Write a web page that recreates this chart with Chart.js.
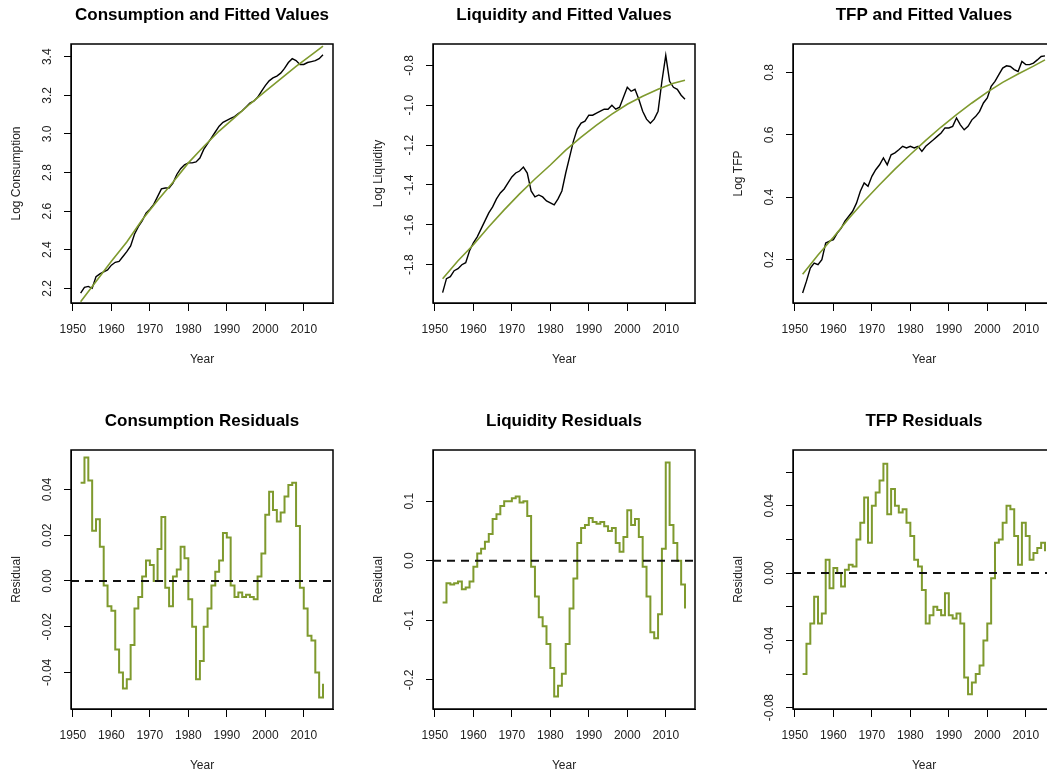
<!DOCTYPE html>
<html>
<head>
<meta charset="utf-8">
<script src="https://cdn.jsdelivr.net/npm/chart.js@4.4.1/dist/chart.umd.min.js"></script>
<style>
  html, body { margin: 0; padding: 0; background: #fff; }
  body { width: 1047px; height: 777px; overflow: hidden; position: relative; }
  .panel { position: absolute; width: 362px; height: 406px; }
</style>
</head>
<body>
<div class="panel" style="left:0;top:0"><canvas id="c1" width="362" height="406"></canvas></div>
<div class="panel" style="left:362px;top:0"><canvas id="c2" width="362" height="406"></canvas></div>
<div class="panel" style="left:722px;top:0"><canvas id="c3" width="362" height="406"></canvas></div>
<div class="panel" style="left:0;top:406px"><canvas id="c4" width="362" height="406"></canvas></div>
<div class="panel" style="left:362px;top:406px"><canvas id="c5" width="362" height="406"></canvas></div>
<div class="panel" style="left:722px;top:406px"><canvas id="c6" width="362" height="406"></canvas></div>
<script>
// annual readings 1952..2015
const years = [
  1952, 1953, 1954, 1955, 1956, 1957, 1958, 1959,
  1960, 1961, 1962, 1963, 1964, 1965, 1966, 1967,
  1968, 1969, 1970, 1971, 1972, 1973, 1974, 1975,
  1976, 1977, 1978, 1979, 1980, 1981, 1982, 1983,
  1984, 1985, 1986, 1987, 1988, 1989, 1990, 1991,
  1992, 1993, 1994, 1995, 1996, 1997, 1998, 1999,
  2000, 2001, 2002, 2003, 2004, 2005, 2006, 2007,
  2008, 2009, 2010, 2011, 2012, 2013, 2014, 2015
];
const fitYears = [1952, 1956, 1960, 1964, 1968, 1972, 1976, 1980, 1984, 1988, 1992, 1996, 2000, 2004, 2008, 2012, 2015];

const consumption = [
  2.175, 2.205, 2.21, 2.20, 2.26, 2.275, 2.285, 2.295,
  2.32, 2.335, 2.34, 2.365, 2.39, 2.42, 2.48, 2.52,
  2.55, 2.59, 2.61, 2.635, 2.675, 2.715, 2.72, 2.72,
  2.745, 2.79, 2.82, 2.84, 2.85, 2.85, 2.855, 2.875,
  2.92, 2.95, 2.98, 3.01, 3.04, 3.06, 3.07, 3.08,
  3.09, 3.105, 3.12, 3.14, 3.16, 3.17, 3.19, 3.22,
  3.25, 3.275, 3.29, 3.30, 3.315, 3.34, 3.37, 3.39,
  3.38, 3.36, 3.36, 3.37, 3.375, 3.38, 3.39, 3.41
];
const consumptionFit = [2.13, 2.235, 2.34, 2.44, 2.555, 2.655, 2.75, 2.85, 2.935, 3.015, 3.085, 3.155, 3.22, 3.285, 3.35, 3.41, 3.455];

const liquidity = [
  -1.94, -1.87, -1.86, -1.83, -1.82, -1.80, -1.79, -1.73,
  -1.69, -1.66, -1.62, -1.58, -1.54, -1.51, -1.47, -1.44,
  -1.42, -1.39, -1.36, -1.34, -1.33, -1.31, -1.34, -1.43,
  -1.46, -1.45, -1.46, -1.48, -1.49, -1.50, -1.47, -1.43,
  -1.34, -1.26, -1.18, -1.12, -1.09, -1.08, -1.05, -1.05,
  -1.04, -1.03, -1.02, -1.02, -1.00, -1.02, -1.01, -0.96,
  -0.91, -0.93, -0.92, -0.97, -1.03, -1.07, -1.09, -1.07,
  -1.03, -0.88, -0.75, -0.88, -0.91, -0.92, -0.95, -0.97
];
const liquidityFit = [-1.87, -1.78, -1.70, -1.61, -1.525, -1.445, -1.37, -1.30, -1.225, -1.16, -1.10, -1.045, -0.995, -0.955, -0.92, -0.89, -0.875];

const tfp = [
  0.093, 0.131, 0.173, 0.189, 0.184, 0.200, 0.253, 0.259,
  0.264, 0.285, 0.300, 0.323, 0.339, 0.355, 0.381, 0.419,
  0.446, 0.435, 0.467, 0.488, 0.504, 0.526, 0.504, 0.536,
  0.542, 0.552, 0.563, 0.558, 0.563, 0.558, 0.563, 0.547,
  0.563, 0.574, 0.584, 0.595, 0.606, 0.622, 0.622, 0.627,
  0.654, 0.632, 0.616, 0.627, 0.648, 0.659, 0.675, 0.702,
  0.718, 0.755, 0.771, 0.793, 0.814, 0.821, 0.819, 0.809,
  0.803, 0.835, 0.825, 0.825, 0.830, 0.840, 0.851, 0.853
];
const tfpFit = [0.153, 0.215, 0.272, 0.332, 0.388, 0.44, 0.49, 0.537, 0.582, 0.625, 0.665, 0.702, 0.737, 0.768, 0.795, 0.82, 0.84];

const consumptionResid = [
  0.043, 0.054, 0.044, 0.022, 0.027, 0.015, -0.002, -0.011,
  -0.013, -0.03, -0.04, -0.047, -0.043, -0.028, -0.012, -0.007,
  0.002, 0.009, 0.007, 0.000, 0.014, 0.028, -0.003, -0.011,
  0.002, 0.005, 0.015, 0.010, -0.008, -0.02, -0.043, -0.035,
  -0.02, -0.012, -0.002, 0.004, 0.009, 0.021, 0.019, -0.002,
  -0.007, -0.005, -0.007, -0.006, -0.007, -0.008, 0.002, 0.012,
  0.029, 0.039, 0.031, 0.026, 0.03, 0.037, 0.042, 0.043,
  0.024, -0.003, -0.012, -0.024, -0.026, -0.04, -0.051, -0.045
];
const liquidityResid = [
  -0.07, -0.038, -0.04, -0.038, -0.035, -0.048, -0.045, -0.035,
  -0.01, 0.012, 0.02, 0.032, 0.045, 0.07, 0.078, 0.092,
  0.10, 0.10, 0.105, 0.108, 0.098, 0.10, 0.075, -0.01,
  -0.06, -0.095, -0.11, -0.14, -0.18, -0.228, -0.21, -0.19,
  -0.14, -0.08, -0.03, 0.03, 0.055, 0.06, 0.072, 0.065,
  0.062, 0.065, 0.058, 0.05, 0.055, 0.03, 0.015, 0.04,
  0.085, 0.06, 0.07, 0.04, -0.01, -0.06, -0.12, -0.13,
  -0.09, 0.02, 0.165, 0.06, 0.03, 0.0, -0.04, -0.08
];
const tfpResid = [
  -0.06, -0.042, -0.03, -0.014, -0.03, -0.024, 0.008, -0.009,
  0.003, 0.0, -0.008, 0.002, 0.005, 0.004, 0.02, 0.03,
  0.045, 0.018, 0.04, 0.048, 0.055, 0.065, 0.035, 0.05,
  0.04, 0.036, 0.038, 0.03, 0.022, 0.008, 0.004, -0.01,
  -0.03, -0.025, -0.02, -0.022, -0.025, -0.012, -0.025, -0.027,
  -0.024, -0.03, -0.062, -0.072, -0.065, -0.06, -0.055, -0.04,
  -0.03, -0.003, 0.018, 0.02, 0.03, 0.04, 0.038, 0.022,
  0.005, 0.03, 0.022, 0.008, 0.012, 0.015, 0.018, 0.013
];

// tick values and labels
const yearTicks = [1950, 1960, 1970, 1980, 1990, 2000, 2010];
const consTicks = [2.2, 2.4, 2.6, 2.8, 3.0, 3.2, 3.4];
const consLabels = ['2.2', '2.4', '2.6', '2.8', '3.0', '3.2', '3.4'];
const liqTicks = [-1.8, -1.6, -1.4, -1.2, -1.0, -0.8];
const liqLabels = ['-1.8', '-1.6', '-1.4', '-1.2', '-1.0', '-0.8'];
const tfpTicks = [0.2, 0.4, 0.6, 0.8];
const tfpLabels = ['0.2', '0.4', '0.6', '0.8'];
const consResTicks = [-0.04, -0.02, 0, 0.02, 0.04];
const consResLabels = ['-0.04', '-0.02', '0.00', '0.02', '0.04'];
const liqResTicks = [-0.2, -0.1, 0, 0.1];
const liqResLabels = ['-0.2', '-0.1', '0.0', '0.1'];
const tfpResTicks = [-0.08, -0.06, -0.04, -0.02, 0, 0.02, 0.04, 0.06];
const tfpResLabels = ['-0.08', '', '-0.04', '', '0.00', '', '0.04', ''];

const OLIVE = '#7f9a2e';
Chart.defaults.font.family = "'Liberation Sans', Arial, sans-serif";

const frame = {
  id: 'frame',
  afterDraw(chart) {
    const a = chart.chartArea, ctx = chart.ctx;
    ctx.save();
    ctx.strokeStyle = '#000';
    ctx.lineWidth = 1.5;
    ctx.strokeRect(a.left, a.top, a.right - a.left, a.bottom - a.top);
    ctx.restore();
  }
};

const zeroLine = {
  id: 'zeroLine',
  afterDatasetsDraw(chart, args, opts) {
    if (!opts.show) return;
    const a = chart.chartArea, ctx = chart.ctx;
    const y = chart.scales.y.getPixelForValue(0);
    ctx.save();
    ctx.beginPath();
    ctx.rect(a.left, a.top, a.right - a.left, a.bottom - a.top);
    ctx.clip();
    ctx.strokeStyle = '#111';
    ctx.lineWidth = 2;
    ctx.setLineDash([8, 6]);
    ctx.beginPath();
    ctx.moveTo(a.left, y);
    ctx.lineTo(a.right, y);
    ctx.stroke();
    ctx.restore();
  }
};

const measure = document.createElement('canvas').getContext('2d');
function labelPad(labels) {
  measure.font = "12px 'Liberation Sans', Arial, sans-serif";
  const widest = Math.max(...labels.map(l => measure.measureText(l).width));
  return 16.7 - widest / 2;
}

function pts(xs, ys) {
  return xs.map((x, i) => ({ x: x, y: ys[i] }));
}

function panel(id, title, yTitle, yMin, yMax, yTicks, yLabels, datasets, zero) {
  new Chart(document.getElementById(id), {
    type: 'line',
    data: { datasets: datasets },
    options: {
      responsive: false,
      animation: false,
      layout: { padding: { left: 0, top: 0, right: 29, bottom: 0 } },
      elements: { point: { radius: 0 }, line: { tension: 0 } },
      plugins: {
        legend: { display: false },
        tooltip: { enabled: false },
        title: {
          display: true, text: title, fullSize: false, color: '#000',
          font: { size: 17, weight: 'bold' },
          padding: { top: 5, bottom: 18.6 }
        },
        zeroLine: { show: zero }
      },
      scales: {
        x: {
          type: 'linear', min: 1949.5, max: 2017.6,
          afterFit: s => { s.height = 103; },
          afterBuildTicks: s => { s.ticks = yearTicks.map(v => ({ value: v })); },
          grid: { display: true, drawOnChartArea: false, drawTicks: true, tickLength: 8, color: '#000' },
          border: { display: true, color: '#000', width: 1 },
          ticks: { color: '#222', font: { size: 12 }, padding: 11, maxRotation: 0, autoSkip: false,
                   callback: v => String(v) },
          title: { display: true, text: 'Year', color: '#222', font: { size: 12 }, padding: { top: 0, bottom: 38.8 } }
        },
        y: {
          type: 'linear', min: yMin, max: yMax,
          afterFit: s => { s.width = 71; },
          afterBuildTicks: s => { s.ticks = yTicks.map(v => ({ value: v })); },
          grid: { display: true, drawOnChartArea: false, drawTicks: true, tickLength: 7, color: '#000' },
          border: { display: true, color: '#000', width: 1 },
          ticks: { color: '#222', font: { size: 12 }, minRotation: 90, maxRotation: 90, crossAlign: 'center',
                   padding: labelPad(yLabels), autoSkip: false,
                   callback: (v, i) => yLabels[i] },
          title: { display: true, text: yTitle, color: '#222', font: { size: 12 }, padding: { top: 9.5, bottom: 0 } }
        }
      }
    },
    plugins: [frame, zeroLine]
  });
}

function levelSets(actual, fitted) {
  return [
    { data: pts(fitYears, fitted), borderColor: OLIVE, borderWidth: 1.6 },
    { data: pts(years, actual), borderColor: '#000', borderWidth: 1.4 }
  ];
}
function residSet(resid) {
  return [{ data: pts(years, resid), borderColor: OLIVE, borderWidth: 2, stepped: true }];
}

panel('c1', 'Consumption and Fitted Values', 'Log Consumption', 2.124, 3.466, consTicks, consLabels,
      levelSets(consumption, consumptionFit), false);
panel('c2', 'Liquidity and Fitted Values', 'Log Liquidity', -1.992, -0.693, liqTicks, liqLabels,
      levelSets(liquidity, liquidityFit), false);
panel('c3', 'TFP and Fitted Values', 'Log TFP', 0.061, 0.891, tfpTicks, tfpLabels,
      levelSets(tfp, tfpFit), false);
panel('c4', 'Consumption Residuals', 'Residual', -0.056, 0.0573, consResTicks, consResLabels,
      residSet(consumptionResid), true);
panel('c5', 'Liquidity Residuals', 'Residual', -0.249, 0.186, liqResTicks, liqResLabels,
      residSet(liquidityResid), true);
panel('c6', 'TFP Residuals', 'Residual', -0.0808, 0.0732, tfpResTicks, tfpResLabels,
      residSet(tfpResid), true);
</script>
</body>
</html>
